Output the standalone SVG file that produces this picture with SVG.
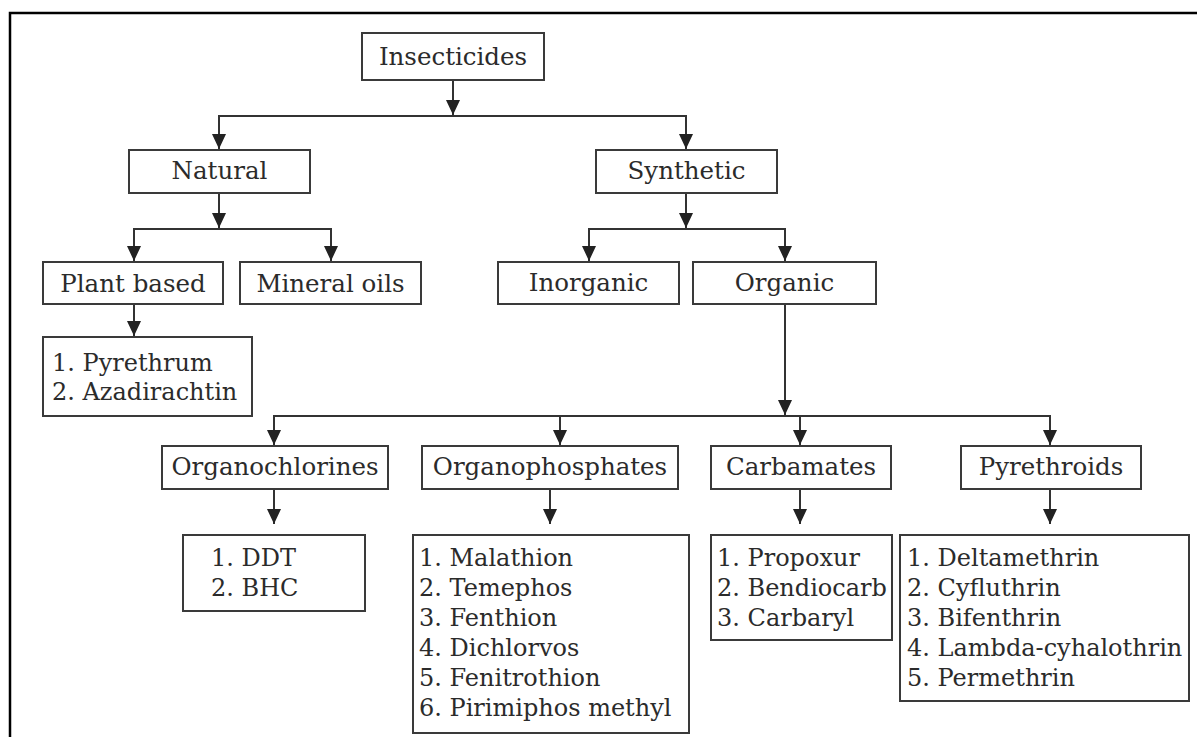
<svg xmlns="http://www.w3.org/2000/svg" width="1197" height="737" viewBox="0 0 1197 737">
<style>
  .box { fill: #ffffff; stroke: #3a3a3a; stroke-width: 2; }
  .lbl { font-family: "DejaVu Serif", "Liberation Serif", serif; font-size: 24.5px; fill: #2b2b2b; text-anchor: middle; }
  .lst { font-family: "DejaVu Serif", "Liberation Serif", serif; font-size: 24px; fill: #2b2b2b; }
  .con { fill: none; stroke: #333333; stroke-width: 2; }
  .frame { fill: none; stroke: #000000; stroke-width: 2.5; }
</style>
<defs>
  <marker id="ah" viewBox="0 0 15 14" refX="15" refY="7" markerWidth="15" markerHeight="14" markerUnits="userSpaceOnUse" orient="auto">
    <path d="M0,0 L15,7 L0,14 z" fill="#222222"/>
  </marker>
</defs>
<rect x="0" y="0" width="1197" height="737" fill="#ffffff"/>
<path class="frame" d="M10,737 V13 H1197"/>

<g id="connectors">
  <path class="con" d="M453,80 V115" marker-end="url(#ah)"/>
  <path class="con" d="M219,149 V116 H686 V149" />
  <path class="con" d="M219,116 V149" marker-end="url(#ah)"/>
  <path class="con" d="M686,116 V149" marker-end="url(#ah)"/>

  <path class="con" d="M219,193 V228" marker-end="url(#ah)"/>
  <path class="con" d="M134,261 V229 H331 V261"/>
  <path class="con" d="M134,229 V261" marker-end="url(#ah)"/>
  <path class="con" d="M331,229 V261" marker-end="url(#ah)"/>

  <path class="con" d="M686,193 V228" marker-end="url(#ah)"/>
  <path class="con" d="M589,261 V229 H785 V261"/>
  <path class="con" d="M589,229 V261" marker-end="url(#ah)"/>
  <path class="con" d="M785,229 V261" marker-end="url(#ah)"/>

  <path class="con" d="M134,304 V336" marker-end="url(#ah)"/>

  <path class="con" d="M785,304 V415" marker-end="url(#ah)"/>
  <path class="con" d="M274,445 V416 H1050 V445"/>
  <path class="con" d="M274,416 V445" marker-end="url(#ah)"/>
  <path class="con" d="M560,416 V445" marker-end="url(#ah)"/>
  <path class="con" d="M800,416 V445" marker-end="url(#ah)"/>
  <path class="con" d="M1050,416 V445" marker-end="url(#ah)"/>

  <path class="con" d="M274,489 V524" marker-end="url(#ah)"/>
  <path class="con" d="M550,489 V524" marker-end="url(#ah)"/>
  <path class="con" d="M800,489 V524" marker-end="url(#ah)"/>
  <path class="con" d="M1050,489 V524" marker-end="url(#ah)"/>
</g>

<g id="insecticides">
  <rect class="box" x="362" y="33" width="182" height="47"/>
  <text class="lbl" x="453" y="65">Insecticides</text>
</g>
<g id="natural">
  <rect class="box" x="129" y="150" width="181" height="43"/>
  <text class="lbl" x="219.5" y="179">Natural</text>
</g>
<g id="synthetic">
  <rect class="box" x="596" y="150" width="181" height="43"/>
  <text class="lbl" x="686.5" y="179">Synthetic</text>
</g>
<g id="plant-based">
  <rect class="box" x="43" y="262" width="180" height="42"/>
  <text class="lbl" x="133" y="292">Plant based</text>
</g>
<g id="mineral-oils">
  <rect class="box" x="240" y="262" width="181" height="42"/>
  <text class="lbl" x="330.5" y="292">Mineral oils</text>
</g>
<g id="inorganic">
  <rect class="box" x="498" y="262" width="181" height="42"/>
  <text class="lbl" x="588.5" y="291">Inorganic</text>
</g>
<g id="organic">
  <rect class="box" x="693" y="262" width="183" height="42"/>
  <text class="lbl" x="784.5" y="291">Organic</text>
</g>
<g id="plant-list">
  <rect class="box" x="43" y="337" width="209" height="79"/>
  <text class="lst" x="52" y="371">1. Pyrethrum</text>
  <text class="lst" x="52" y="400">2. Azadirachtin</text>
</g>
<g id="organochlorines">
  <rect class="box" x="162" y="446" width="226" height="43"/>
  <text class="lbl" x="275" y="475">Organochlorines</text>
</g>
<g id="organophosphates">
  <rect class="box" x="422" y="446" width="256" height="43"/>
  <text class="lbl" x="550" y="475">Organophosphates</text>
</g>
<g id="carbamates">
  <rect class="box" x="711" y="446" width="180" height="43"/>
  <text class="lbl" x="801" y="475">Carbamates</text>
</g>
<g id="pyrethroids">
  <rect class="box" x="961" y="446" width="180" height="43"/>
  <text class="lbl" x="1051" y="475">Pyrethroids</text>
</g>
<g id="organochlorine-list">
  <rect class="box" x="183" y="535" width="182" height="76"/>
  <text class="lst" x="211" y="566">1. DDT</text>
  <text class="lst" x="211" y="596">2. BHC</text>
</g>
<g id="organophosphate-list">
  <rect class="box" x="413" y="535" width="276" height="198"/>
  <text class="lst" x="419" y="566">1. Malathion</text>
  <text class="lst" x="419" y="596">2. Temephos</text>
  <text class="lst" x="419" y="626">3. Fenthion</text>
  <text class="lst" x="419" y="656">4. Dichlorvos</text>
  <text class="lst" x="419" y="686">5. Fenitrothion</text>
  <text class="lst" x="419" y="716">6. Pirimiphos methyl</text>
</g>
<g id="carbamate-list">
  <rect class="box" x="711" y="535" width="181" height="105"/>
  <text class="lst" x="717" y="566">1. Propoxur</text>
  <text class="lst" x="717" y="596">2. Bendiocarb</text>
  <text class="lst" x="717" y="626">3. Carbaryl</text>
</g>
<g id="pyrethroid-list">
  <rect class="box" x="900" y="535" width="289" height="166"/>
  <text class="lst" x="907" y="566">1. Deltamethrin</text>
  <text class="lst" x="907" y="596">2. Cyfluthrin</text>
  <text class="lst" x="907" y="626">3. Bifenthrin</text>
  <text class="lst" x="907" y="656">4. Lambda-cyhalothrin</text>
  <text class="lst" x="907" y="686">5. Permethrin</text>
</g>
</svg>
